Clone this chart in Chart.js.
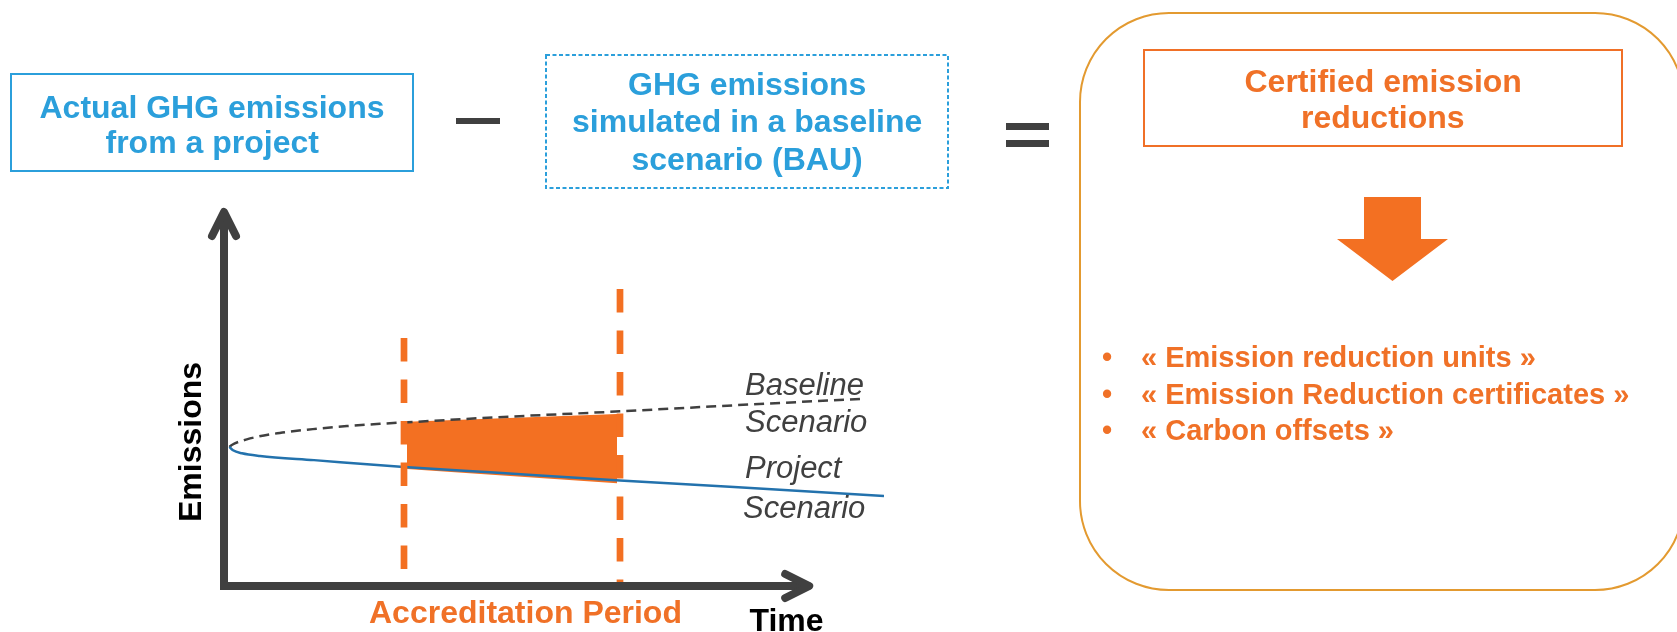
<!DOCTYPE html>
<html>
<head>
<meta charset="utf-8">
<script src="https://cdn.jsdelivr.net/npm/chart.js@4.4.1/dist/chart.umd.min.js"></script>
<style>
  html, body { margin: 0; padding: 0; background: #ffffff; }
  body { width: 1677px; height: 632px; position: relative; overflow: hidden;
         font-family: "Liberation Sans", Arial, sans-serif; }
  #diagram { position: absolute; left: 0; top: 0; }
  .box { position: absolute; box-sizing: border-box; }
  .txt { position: absolute; white-space: nowrap; font-weight: bold; }
  .bar { position: absolute; background: #404040; }
  svg.deco { position: absolute; left: 0; top: 0; pointer-events: none; }
</style>
</head>
<body>
<canvas id="diagram" width="1677" height="632"></canvas>
<svg class="deco" width="1677" height="632">
  <rect x="546" y="55" width="402" height="133" fill="none" stroke="#2b9fdb" stroke-width="2" stroke-dasharray="4 2.5"/>
  <polygon points="1364,197 1421,197 1421,239 1448,239 1392.5,281 1337,239 1364,239" fill="#f37022"/>
</svg>
<div class="box" style="left:1079px;top:12px;width:606px;height:579px;border:2.5px solid #e39a30;border-radius:90px;"></div>
<div class="box" style="left:1143px;top:49px;width:480px;height:98px;border:2.5px solid #f07027;"></div>
<div class="box" style="left:10px;top:73px;width:404px;height:99px;border:2.5px solid #2b9fdb;"></div>
<div class="bar" style="left:456px;top:118px;width:44px;height:6px;"></div>
<div class="bar" style="left:1006px;top:123px;width:43px;height:7px;"></div>
<div class="bar" style="left:1006px;top:140px;width:43px;height:7px;"></div>
<div id="labels"></div>

<script>
// Emissions over time (time units along the axis, emissions in arbitrary units)
const baselineTime      = [0.9, 1.3, 3.8, 9.3, 14.8, 20.5, 26, 31.5, 45, 66, 85, 106];
const baselineEmissions = [36.8, 37.3, 38.8, 40.5, 41.5, 42.3, 42.9, 43.4, 44.6, 46.2, 47.8, 49.5];
const projectTime       = [0.9, 1.5, 3, 6, 15, 30, 45, 66, 85, 110];
const projectEmissions  = [36.8, 35.9, 35.1, 34.4, 33.3, 31.5, 30.0, 27.9, 26.2, 23.8];

// Accreditation period boundaries and the reduction area drawn inside it
const accreditationStart = 30;
const accreditationEnd   = 66;
const reductionTopTime      = [29.7, 65.5];
const reductionTopEmissions = [43.4, 45.5];
const reductionBottomTime      = [30.5, 65.5];
const reductionBottomEmissions = [30.95, 27.2];
// Vertical extent of the two dashed period markers
const startMarkerRange = [65.6, 3.7];
const endMarkerRange   = [78.6, 0];

// Axis extents (arrow tips)
const timeAxisEnd = 98.2;
const emissionAxisEnd = 100;

// Text content
const actualLines   = ["Actual GHG emissions", "from a project"];
const simulatedLines = ["GHG emissions", "simulated in a baseline", "scenario (BAU)"];
const certifiedLines = ["Certified emission", "reductions"];
const bulletItems = ["« Emission reduction units »", "« Emission Reduction certificates »", "« Carbon offsets »"];
const baselineLabel = ["Baseline", "Scenario"];
const projectLabel  = ["Project", "Scenario"];

const ORANGE = "#f37022";
const ORANGE_TEXT = "#f07127";
const BLUE_TEXT = "#2b9fdb";
const DARK = "#404040";

const zip = (xs, ys) => xs.map((x, i) => ({ x, y: ys[i] }));

// Thick axes with open chevron arrowheads
const arrowAxes = {
  id: "arrowAxes",
  afterDatasetsDraw(chart) {
    const { ctx, scales: { x, y } } = chart;
    const x0 = x.getPixelForValue(0), y0 = y.getPixelForValue(0);
    const xTip = x.getPixelForValue(timeAxisEnd), yTip = y.getPixelForValue(emissionAxisEnd);
    ctx.save();
    ctx.strokeStyle = DARK;
    ctx.lineWidth = 8;
    ctx.lineCap = "butt";
    ctx.beginPath();
    ctx.moveTo(x0, y0 + 4); ctx.lineTo(x0, yTip + 3);
    ctx.moveTo(x0 - 4, y0); ctx.lineTo(xTip - 3, y0);
    ctx.stroke();
    ctx.lineCap = "round";
    ctx.lineJoin = "round";
    ctx.beginPath();
    ctx.moveTo(x0 - 12, yTip + 28); ctx.lineTo(x0, yTip + 4); ctx.lineTo(x0 + 12, yTip + 28);
    ctx.moveTo(xTip - 28, y0 - 12); ctx.lineTo(xTip - 4, y0); ctx.lineTo(xTip - 28, y0 + 12);
    ctx.stroke();
    ctx.restore();
  }
};

new Chart(document.getElementById("diagram"), {
  type: "line",
  data: {
    datasets: [
      { data: [{ x: accreditationStart, y: startMarkerRange[0] }, { x: accreditationStart, y: startMarkerRange[1] }],
        borderColor: ORANGE, borderWidth: 6.7, borderDash: [23.5, 18], borderCapStyle: "butt", order: 0 },
      { data: [{ x: accreditationEnd, y: endMarkerRange[0] }, { x: accreditationEnd, y: endMarkerRange[1] }],
        borderColor: ORANGE, borderWidth: 6.7, borderDash: [23.5, 18], borderCapStyle: "butt", order: 0 },
      { data: zip(projectTime, projectEmissions), borderColor: "#2372ad", borderWidth: 2.5,
        cubicInterpolationMode: "monotone", order: 1 },
      { data: zip(baselineTime, baselineEmissions), borderColor: DARK, borderWidth: 2.5,
        borderDash: [10, 6], cubicInterpolationMode: "monotone", order: 2 },
      { data: zip(reductionTopTime, reductionTopEmissions), borderWidth: 0, borderColor: ORANGE,
        backgroundColor: ORANGE, fill: "+1", order: 3 },
      { data: zip(reductionBottomTime, reductionBottomEmissions), borderWidth: 0, borderColor: ORANGE,
        backgroundColor: ORANGE, fill: false, order: 4 }
    ]
  },
  options: {
    responsive: false,
    animation: false,
    devicePixelRatio: 1,
    layout: { padding: { left: 224, right: 793, top: 208, bottom: 46 } },
    elements: { point: { radius: 0, hoverRadius: 0 }, line: { tension: 0 } },
    scales: {
      x: { type: "linear", min: 0, max: 110, display: false },
      y: { type: "linear", min: 0, max: 100, display: false }
    },
    plugins: { legend: { display: false }, tooltip: { enabled: false } },
    events: []
  },
  plugins: [arrowAxes]
});

// Text placement helpers (positions by baseline)
const labels = document.getElementById("labels");
function addText(text, { cx, left, baseline, size, color, italic = false, bold = true }) {
  const d = document.createElement("div");
  d.className = "txt";
  d.textContent = text;
  d.style.fontSize = size + "px";
  d.style.lineHeight = size + "px";
  d.style.color = color;
  d.style.fontWeight = bold ? "bold" : "normal";
  if (italic) d.style.fontStyle = "italic";
  d.style.top = (baseline - 0.8465 * size) + "px";
  labels.appendChild(d);
  if (cx !== undefined) d.style.left = (cx - d.offsetWidth / 2) + "px";
  else d.style.left = left + "px";
  return d;
}

actualLines.forEach((t, i) => addText(t, { cx: 212, baseline: 118 + i * 35.5, size: 32, color: BLUE_TEXT }));
simulatedLines.forEach((t, i) => addText(t, { cx: 747, baseline: 95 + i * 37.5, size: 32, color: BLUE_TEXT }));
certifiedLines.forEach((t, i) => addText(t, { cx: 1383, baseline: 91.7 + i * 36.7, size: 32, color: ORANGE_TEXT }));
bulletItems.forEach((t, i) => {
  const b = 368 + i * 36.5;
  addText("•", { cx: 1107, baseline: b, size: 29, color: ORANGE_TEXT });
  addText(t, { left: 1141, baseline: b, size: 29, color: ORANGE_TEXT });
});
addText(baselineLabel[0], { left: 745, baseline: 395, size: 31, color: DARK, italic: true, bold: false });
addText(baselineLabel[1], { left: 745, baseline: 432, size: 31, color: DARK, italic: true, bold: false });
addText(projectLabel[0], { left: 745, baseline: 478, size: 31, color: DARK, italic: true, bold: false });
addText(projectLabel[1], { left: 743, baseline: 518, size: 31, color: DARK, italic: true, bold: false });
addText("Accreditation Period", { cx: 525.5, baseline: 623, size: 32, color: ORANGE_TEXT });
addText("Time", { cx: 786.5, baseline: 631, size: 32, color: "#000000" });

// Rotated vertical axis title
const em = addText("Emissions", { cx: 190, baseline: 0, size: 32, color: "#000000" });
em.style.top = (441.5 - 16) + "px";
em.style.left = (190 - em.offsetWidth / 2) + "px";
em.style.transform = "rotate(-90deg)";
em.style.transformOrigin = "50% 50%";
</script>
</body>
</html>
